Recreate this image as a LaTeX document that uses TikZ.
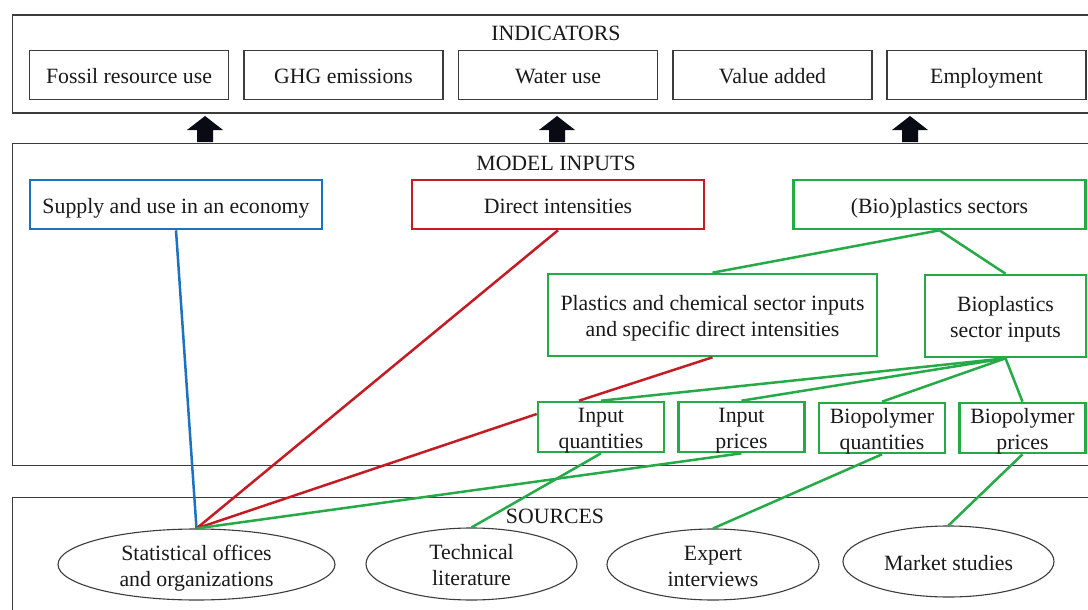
\documentclass[tikz,border=0pt]{standalone}
\usepackage{fontspec}
\setmainfont{Liberation Serif}
\usetikzlibrary{shapes.geometric}

\definecolor{cblue}{RGB}{28,114,192}
\definecolor{cred}{RGB}{196,28,36}
\definecolor{cgreen}{RGB}{38,170,72}
\definecolor{frameink}{RGB}{60,60,60}
\definecolor{textink}{RGB}{25,25,25}
\definecolor{arrowink}{RGB}{10,10,20}

\tikzset{
  words/.style={text=textink, inner sep=0pt, text height=18pt, text depth=1pt},
  twolines/.style={text height=44pt, text depth=1pt},
  panel/.style={draw=frameink, line width=1.3pt, inner sep=0pt, anchor=north west},
  title/.style={words},
  ibox/.style={words, draw=frameink, line width=1.2pt,
               minimum width=199pt, minimum height=49.5pt},
  cbox/.style={words, draw=#1, line width=2.6pt, align=center},
  src/.style={words, ellipse, draw=frameink, line width=1.1pt, align=center},
  link/.style={draw=#1, line width=2.5pt},
  blockup/.pic={\fill[arrowink] (-8,0) -- (-8,-12) -- (-18,-12) -- (0,-26)
                 -- (18,-12) -- (8,-12) -- (8,0) -- cycle;}
}

\begin{document}
\begin{tikzpicture}[x=1pt, y=-1pt, font=\fontsize{21.8}{26}\selectfont]
\useasboundingbox (0,0) rectangle (1088,610);
\clip (0,0) rectangle (1088,610);
\fill[white] (0,0) rectangle (1088,610);

% three panels, their right and lower edges run off the page
\node[panel, minimum width=1090pt, minimum height=98pt]  (pind) at (11.5,14.3) {};
\node[panel, minimum width=1090pt, minimum height=322pt] (pmod) at (11.5,143) {};
\node[panel, minimum width=1090pt, minimum height=130pt] (psrc) at (11.5,497) {};

\node[title] (tind) at (556,32)  {INDICATORS};
\node[title] (tmod) at (556,162) {MODEL INPUTS};
\node[title] (tsrc) at (555,515) {SOURCES};

% indicators
\node[ibox] (fossil) at (129,75)   {Fossil resource use};
\node[ibox] (ghg)    at (343.5,75) {GHG emissions};
\node[ibox] (water)  at (558,75)   {Water use};
\node[ibox] (value)  at (772.5,75) {Value added};
\node[ibox] (employ) at (986.5,75) {Employment};

% model inputs feed the indicators
\pic at (205,142) {blockup};
\pic at (557,142) {blockup};
\pic at (910,142) {blockup};

% model inputs
\node[cbox=cblue,  minimum width=292pt, minimum height=49pt] (supply) at (176,204.5)   {Supply and use in an economy};
\node[cbox=cred,   minimum width=292pt, minimum height=49pt] (direct) at (558,204.5)   {Direct intensities};
\node[cbox=cgreen, minimum width=292pt, minimum height=49pt] (bio)    at (939.5,204.5) {(Bio)plastics sectors};
\node[cbox=cgreen, twolines, minimum width=329pt, minimum height=82pt] (plast)  at (712.5,315)   {Plastics and chemical sector inputs\\and specific direct intensities};
\node[cbox=cgreen, twolines, minimum width=161pt, minimum height=82pt] (bioin)  at (1005.5,316)  {Bioplastics\\sector inputs};
\node[cbox=cgreen, twolines, minimum width=126pt, minimum height=50pt] (inq)    at (601,427)     {Input\\quantities};
\node[cbox=cgreen, twolines, minimum width=126pt, minimum height=50pt] (inp)    at (741.5,427)   {Input\\prices};
\node[cbox=cgreen, twolines, minimum width=126pt, minimum height=50pt] (bqty)   at (882,428)     {Biopolymer\\quantities};
\node[cbox=cgreen, twolines, minimum width=126pt, minimum height=50pt] (bprc)   at (1022.5,428)  {Biopolymer\\prices};

% sources
\node[src, twolines, minimum width=277pt, minimum height=71pt] (stat) at (196.5,564.5) {Statistical offices\\and organizations};
\node[src, twolines, minimum width=211pt, minimum height=72pt] (tech) at (471.5,564)   {Technical\\literature};
\node[src, twolines, minimum width=212pt, minimum height=71pt] (expt) at (713,564.5)   {Expert\\interviews};
\node[src, minimum width=211pt, minimum height=71pt] (mkt)  at (948.5,561.5) {Market studies};

% economy-wide data
\draw[link=cblue] (supply.south) -- (stat.north);
\draw[link=cred]  (direct.south) -- (stat.north);
\draw[link=cred]  (stat.north) -- ([yshift=13pt]inq.west);
\draw[link=cred]  (plast.south) -- ([xshift=-22pt]inq.north);

% sector breakdown
\draw[link=cgreen] (bio.south) -- (plast.north);
\draw[link=cgreen] (bio.south) -- (bioin.north);
\draw[link=cgreen] (bioin.south) -- (inq.north);
\draw[link=cgreen] (bioin.south) -- (inp.north);
\draw[link=cgreen] (bioin.south) -- (bqty.north);
\draw[link=cgreen] (bioin.south) -- (bprc.north);

% data sources for the sector inputs
\draw[link=cgreen] (stat.north) -- (inp.south);
\draw[link=cgreen] (tech.north) -- (inq.south);
\draw[link=cgreen] (expt.north) -- (bqty.south);
\draw[link=cgreen] (mkt.north)  -- (bprc.south);
\end{tikzpicture}
\end{document}
